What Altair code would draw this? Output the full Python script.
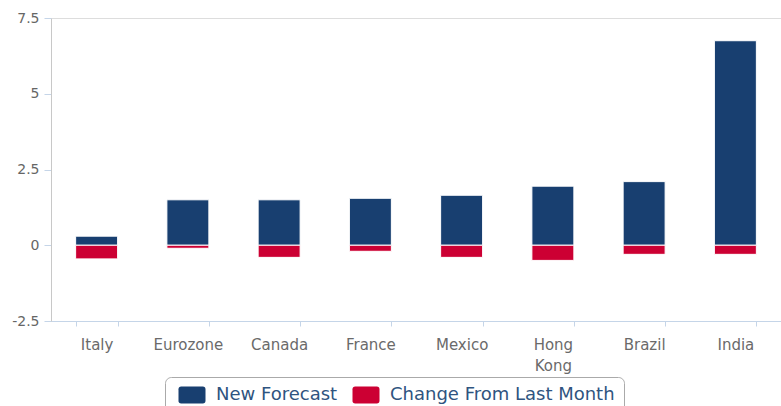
import altair as alt
import pandas as pd

countries = ["Italy", "Eurozone", "Canada", "France", "Mexico", "Hong Kong", "Brazil", "India"]
new_forecast = [0.3, 1.5, 1.5, 1.55, 1.65, 1.95, 2.1, 6.75]
change_from_last = [-0.45, -0.1, -0.4, -0.2, -0.4, -0.5, -0.3, -0.3]
series_names = ["New Forecast", "Change From Last Month"]
series_colors = ["#183f70", "#cc0033"]
y_ticks = [-2.5, 0, 2.5, 5, 7.5]

rows = []
for c, n, ch in zip(countries, new_forecast, change_from_last):
    rows.append({"country": c, "series": series_names[0], "value": n, "order": 0})
    rows.append({"country": c, "series": series_names[1], "value": ch, "order": 1})
df = pd.DataFrame(rows)

symbol_path = ("M-0.2,-0.95 H2.2 Q2.5,-0.95 2.5,-0.65 V0.65 Q2.5,0.95 2.2,0.95 "
               "H-0.2 Q-0.5,0.95 -0.5,0.65 V-0.65 Q-0.5,-0.95 -0.2,-0.95 Z")

chart = alt.Chart(df).mark_bar(stroke="white", strokeWidth=1).encode(
    x=alt.X("country:N", sort=countries, title=None,
            scale=alt.Scale(paddingInner=0.54, paddingOuter=0.27),
            axis=alt.Axis(labelAngle=0, labelFont="DejaVu Sans", labelFontSize=15,
                          labelColor="#6a6a6a", tickBand="extent", tickSize=5,
                          tickColor="#c5d5e8", domainColor="#c5d5e8", labelPadding=11,
                          labelLineHeight=21, labelBaseline="top",
                          labelExpr="datum.label == 'Hong Kong' ? ['Hong', 'Kong'] : datum.label",
                          grid=False)),
    y=alt.Y("value:Q", title=None,
            scale=alt.Scale(domain=[-2.5, 7.5], nice=False, zero=False),
            axis=alt.Axis(values=y_ticks, labelExpr="toString(datum.value)",
                          labelFont="DejaVu Sans", labelFontSize=14, labelColor="#666666",
                          tickSize=7, tickColor="#c5d5e8", domainColor="#c8c8c8",
                          labelPadding=5, grid=False)),
    color=alt.Color("series:N", sort=series_names,
                    scale=alt.Scale(domain=series_names, range=series_colors),
                    legend=alt.Legend(title=None, orient="none", direction="horizontal",
                                      legendX=114, legendY=359,
                                      symbolType=symbol_path, symbolSize=324,
                                      symbolStrokeWidth=0, symbolOpacity=1,
                                      labelFont="DejaVu Sans", labelFontSize=18,
                                      labelColor="#2f5480", labelOffset=24,
                                      labelLimit=400,
                                      columnPadding=10, padding=9,
                                      strokeColor="#aaaaaa", cornerRadius=6,
                                      fillColor="white")),
    order=alt.Order("order:Q"),
).properties(
    width=730, height=303,
    autosize=alt.AutoSizeParams(type="none"),
    padding={"left": 51, "top": 18, "right": 0, "bottom": 85},
).configure_view(
    stroke="#cccccc", strokeWidth=1
).configure(background="white")

chart.save("out.html", embed_options={"renderer": "svg", "actions": False})
